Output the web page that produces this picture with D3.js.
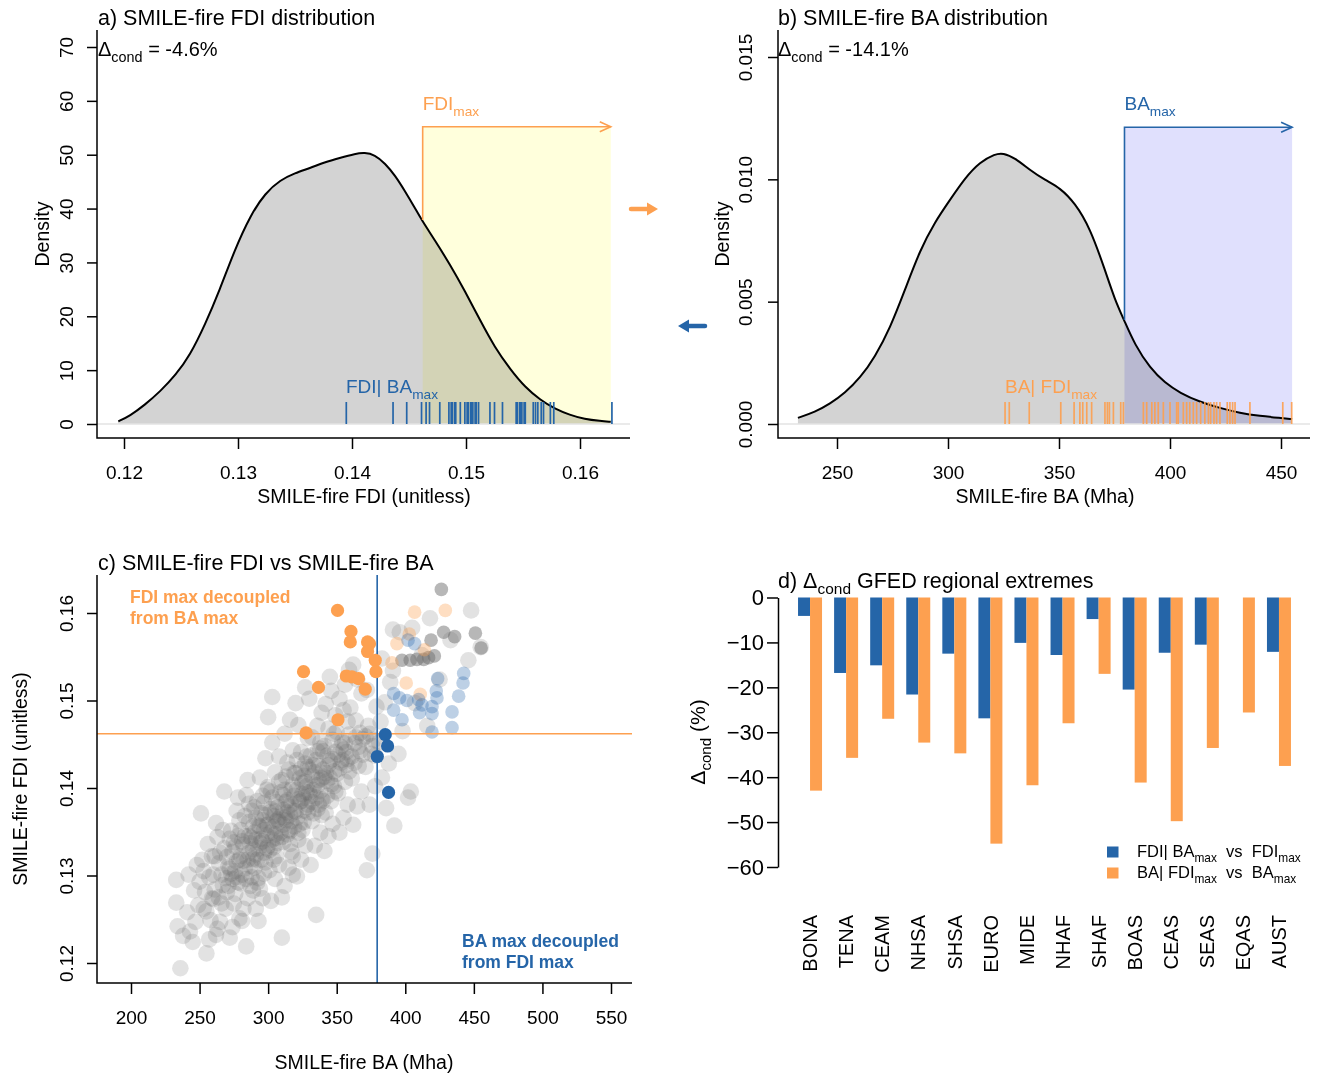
<!DOCTYPE html>
<html>
<head>
<meta charset="utf-8">
<script src="https://cdn.jsdelivr.net/npm/d3@7"></script>
<style>
body { margin: 0; background: #fff; }
svg { font-family: "Liberation Sans", Arial, sans-serif; }
</style>
</head>
<body>
<div id="chart"></div>
<script>
// ---- data ----
// a) FDI density (grid / density)
let fdiGrid = [0.1195,0.1205,0.1218,0.1232,0.1245,0.1258,0.1271,0.1284,0.1297,0.1311,0.1324,0.1337,0.1350,0.1363,0.1376,0.1389,0.1403,0.1411,0.1420,0.1429,0.1438,0.1446,0.1455,0.1461,0.1473,0.1486,0.1499,0.1512,0.1525,0.1539,0.1552,0.1565,0.1578,0.1591,0.1604,0.1618,0.1627];
let fdiDens = [0.5,1.5,3.5,6.1,9.0,12.8,18.4,24.9,32.3,38.8,42.9,45.3,46.6,47.5,48.6,49.4,50.2,50.4,50.0,48.4,46.1,43.4,40.2,37.9,34.0,29.6,24.7,19.4,14.3,10.1,6.8,4.5,2.8,1.7,0.9,0.55,0.4];
// b) BA density
let baGrid = [232.4,240.1,246.8,253.6,260.4,267.1,273.9,280.6,287.4,294.1,300.9,307.7,314.4,321.2,324.8,330.2,336.9,343.7,350.5,357.2,364.0,370.7,375.2,379.3,384.2,391.0,397.7,404.5,413.5,422.5,431.5,440.5,449.5,455.0];
let baDens = [0.00025,0.00049,0.00082,0.00127,0.00188,0.00274,0.00392,0.00548,0.00711,0.00826,0.00916,0.01006,0.01071,0.01104,0.01108,0.01087,0.01038,0.00997,0.00965,0.00903,0.00801,0.00630,0.00507,0.00425,0.00323,0.00229,0.00168,0.00127,0.00090,0.00065,0.00045,0.00033,0.00025,0.00020];

// thresholds
let fdiMax = 0.1462, fdiTop = 0.1627, fdiBoxTop = 55.2, fdiAtMax = 37.9;
let baMax = 379.5, baTop = 455.0, baBoxTop = 0.01213, baAtMax = 0.00425;

// rugs
let fdiGivenBa = [0.1395,0.1436,0.1448,0.1461,0.1465,0.1468,0.1477,0.1485,0.1487,0.1488,0.1490,0.1491,0.1495,0.1499,0.1501,0.1502,0.1504,0.1505,0.1506,0.1508,0.1509,0.1511,0.1521,0.1525,0.1532,0.1544,0.1545,0.1547,0.1548,0.1549,0.1551,0.1552,0.1559,0.1561,0.1563,0.1566,0.1568,0.1574,0.1577,0.1628];
let baGivenFdi = [325.7,327.6,336.6,350.8,356.8,359.4,360.7,362.5,364.7,370.7,371.8,372.7,374.5,377.8,379.0,388.0,389.5,391.8,393.2,394.7,397.0,400.0,403.0,403.7,406.0,407.5,408.9,410.5,412.0,413.8,415.7,417.3,418.3,419.8,421.0,422.5,425.8,427.0,428.2,429.3,436.0,450.8,454.8];

// c) scatter [BA, FDI]
let cloud = [
[236,0.1194],[234,0.1242],[233,0.1295],[233,0.1269],[238,0.1231],
[243,0.1236],[246,0.1283],[241,0.1258],[248,0.1312],[245,0.1224],[249,0.1266],[242,0.1301],[247,0.1247],
[251,0.1371],[255,0.1211],[253,0.1262],[257,0.1298],[252,0.1318],[258,0.1249],[256,0.1336],[254,0.1281],[259,0.1274],[250,0.1293],[257,0.1227],[253,0.1305],[259,0.1322],[255,0.1259],
[268,0.1396],[262,0.1232],[264,0.1275],[266,0.1301],[261,0.1322],[269,0.1262],[263,0.1344],[267,0.1289],[265,0.1247],[260,0.1301],[268,0.1331],[262,0.1360],[264,0.1314],[269,0.1297],[266,0.1268],[261,0.1284],[267,0.1352],[263,0.1239],[265,0.1326],[260,0.1273],
[272,0.1229],[275,0.1268],[278,0.1292],[271,0.1310],[276,0.1333],[273,0.1351],[279,0.1318],[274,0.1296],[277,0.1374],[270,0.1281],[279,0.1251],[272,0.1342],[276,0.1305],[278,0.1389],[274,0.1327],[271,0.1288],[277,0.1316],[273,0.1302],[275,0.1338],[279,0.1363],[270,0.1321],[276,0.1279],[272,0.1308],[278,0.1345],[274,0.1241],[277,0.1298],
[284,0.1219],[282,0.1262],[287,0.1288],[281,0.1301],[285,0.1318],[289,0.1330],[283,0.1345],[286,0.1361],[288,0.1374],[280,0.1352],[284,0.1392],[287,0.1311],[282,0.1335],[289,0.1283],[285,0.1409],[281,0.1248],[288,0.1343],[286,0.1326],[283,0.1308],[280,0.1322],[287,0.1337],[289,0.1356],[284,0.1296],[282,0.1317],[286,0.1345],[288,0.1298],[281,0.1339],[285,0.1274],[283,0.1368],[289,0.1319],[280,0.1291],[286,0.1382],
[291,0.1262],[294,0.1285],[297,0.1302],[292,0.1318],[299,0.1331],[295,0.1342],[293,0.1357],[298,0.1369],[290,0.1378],[296,0.1391],[294,0.1412],[297,0.1326],[291,0.1341],[299,0.1358],[293,0.1297],[296,0.1274],[298,0.1434],[292,0.1385],[295,0.1318],[290,0.1309],[297,0.1352],[294,0.1337],[299,0.1346],[291,0.1324],[296,0.1363],[293,0.1331],[298,0.1315],[290,0.1349],[295,0.1371],[292,0.1292],[297,0.1383],[294,0.1356],[299,0.1398],[291,0.1366],[296,0.1339],[293,0.1248],
[303,0.1504],[300,0.1481],[302,0.1271],[305,0.1296],[308,0.1312],[301,0.1329],[306,0.1343],[304,0.1355],[309,0.1367],[307,0.1378],[303,0.1389],[300,0.1401],[305,0.1418],[308,0.1436],[302,0.1349],[306,0.1362],[310,0.1229],[304,0.1318],[301,0.1372],[309,0.1395],[307,0.1337],[303,0.1452],[300,0.1358],[305,0.1347],[308,0.1361],[302,0.1376],[306,0.1384],[304,0.1332],[309,0.1349],[301,0.1306],[307,0.1364],[303,0.1341],[305,0.1373],[300,0.1334],[308,0.1407],[302,0.1396],[306,0.1322],[304,0.1368],
[312,0.1288],[315,0.1309],[318,0.1322],[311,0.1338],[316,0.1351],[313,0.1363],[319,0.1374],[314,0.1386],[317,0.1398],[310,0.1409],[315,0.1421],[318,0.1443],[312,0.1462],[316,0.1369],[319,0.1356],[311,0.1392],[314,0.1347],[317,0.1381],[313,0.1413],[318,0.1301],[310,0.1275],[316,0.1478],[312,0.1366],[315,0.1379],[319,0.1391],[311,0.1358],[314,0.1372],[317,0.1362],[313,0.1384],[318,0.1403],[310,0.1344],[316,0.1336],[312,0.1398],[315,0.1352],[319,0.1417],[311,0.1375],[314,0.1429],[317,0.1327],
[321,0.1299],[324,0.1318],[327,0.1334],[322,0.1349],[326,0.1361],[329,0.1372],[323,0.1384],[328,0.1395],[325,0.1406],[320,0.1417],[327,0.1428],[324,0.1441],[329,0.1457],[322,0.1472],[326,0.1389],[321,0.1366],[328,0.1378],[323,0.1411],[325,0.1352],[329,0.1424],[320,0.1497],[327,0.1515],[324,0.1385],[321,0.1398],[326,0.1374],[328,0.1402],[322,0.1387],[325,0.1393],[329,0.1381],[323,0.1359],[327,0.1407],[320,0.1373],[324,0.1422],[326,0.1414],[322,0.1341],[328,0.1436],[321,0.1432],
[331,0.1312],[335,0.1255],[334,0.1334],[338,0.1349],[332,0.1362],[336,0.1376],[339,0.1387],[333,0.1398],[337,0.1409],[330,0.1421],[335,0.1432],[338,0.1445],[332,0.1458],[336,0.1471],[339,0.1486],[334,0.1404],[331,0.1391],[337,0.1381],[333,0.1426],[339,0.1369],[330,0.1502],[336,0.1403],[332,0.1414],[338,0.1397],[334,0.1418],[331,0.1437],[337,0.1425],[335,0.1389],[339,0.1411],[333,0.1371],[330,0.1395],[336,0.1442],[332,0.1384],[338,0.1452],
[341,0.1328],[344,0.1345],[347,0.1359],[342,0.1372],[346,0.1385],[349,0.1396],[343,0.1408],[348,0.1419],[345,0.1431],[340,0.1442],[347,0.1455],[344,0.1468],[349,0.1483],[342,0.1496],[346,0.1511],[341,0.1413],[348,0.1402],[343,0.1437],[345,0.1527],[340,0.1421],[344,0.1426],[347,0.1433],[342,0.1417],[349,0.1441],[346,0.1404],[341,0.1448],[348,0.1462],[343,0.1391],[345,0.1412],[340,0.1385],
[352,0.1349],[355,0.1366],[358,0.1381],[351,0.1394],[356,0.1407],[359,0.1419],[353,0.1429],[357,0.1441],[354,0.1453],[350,0.1464],[358,0.1476],[355,0.1489],[352,0.1502],[356,0.1518],[359,0.1535],[354,0.1432],[351,0.1438],[357,0.1426],[353,0.1447],[350,0.1416],[356,0.1451],[358,0.1433],[352,0.1422],[355,0.1444],[359,0.1461],
[362,0.1358],[365,0.1379],[368,0.1396],[361,0.1411],[366,0.1425],[369,0.1438],[363,0.1451],[367,0.1463],[364,0.1477],[360,0.1492],[368,0.1508],[365,0.1524],[362,0.1541],[366,0.1447],[361,0.1436],[369,0.1456],[363,0.1429],[367,0.1442],[364,0.1458],
[372,0.1306],[376,0.1325],[374,0.1381],[378,0.1402],[371,0.1424],[375,0.1439],[377,0.1455],[373,0.1471],[379,0.1493],[372,0.1512],[376,0.1448],[374,0.1462],[371,0.1459],[378,0.1437],
[383,0.1412],[386,0.1377],[388,0.1428],[381,0.1452],[385,0.1498],[389,0.1521],[383,0.1548],[382,0.1476],
[392,0.1357],[395,0.1439],[391,0.1534],[398,0.1465],[396,0.1578],[391,0.1581],
[402,0.1389],[404,0.1396],[407,0.1497],[412,0.1552],[405,0.1583],[416,0.1471],[418,0.1594],[425,0.1524],[433,0.1569],[446,0.1546],[448,0.1603],[455,0.1561]
];
let bothGrey = [[426.3,0.1627],[428.0,0.1578],[436.0,0.1573],[451.1,0.1577],[455.3,0.1560],[418.8,0.1569],[421.2,0.1551],[417.0,0.1549],[413.4,0.1547],[408.5,0.1547],[403.6,0.1546],[397.6,0.1546]];
let bothOrange = [[406.8,0.1601],[429.2,0.1603],[402.9,0.1576],[393.9,0.1565],[390.3,0.1543],[400.7,0.1520],[410.9,0.1507],[413.9,0.1558]];
let bothBlue = [[402.0,0.1569],[406.8,0.1565],[423.6,0.1525],[442.6,0.1531],[442.1,0.1520],[422.6,0.1511],[423.1,0.1503],[438.9,0.1505],[391.5,0.1508],[395.8,0.1503],[401.2,0.1500],[409.7,0.1501],[412.2,0.1495],[410.4,0.1486],[419.5,0.1493],[419.5,0.1485],[434.1,0.1487],[397.6,0.1478],[419.5,0.1464],[434.1,0.1469],[391.5,0.1489]];
let fdiDecoupled = [[350.6,0.1603],[360.4,0.1579],[359.9,0.1567],[372.5,0.1567],[373.9,0.1565],[372.5,0.1556],[378.1,0.1546],[378.6,0.1533],[325.8,0.1533],[357.0,0.1528],[361.1,0.1527],[365.9,0.1525],[336.7,0.1515],[370.8,0.1513],[350.9,0.1478],[327.7,0.1463]];
let baDecoupled = [[385.4,0.1461],[387.1,0.1448],[379.6,0.1436],[387.8,0.1395]];

// d) regional bars
let regions = ["BONA","TENA","CEAM","NHSA","SHSA","EURO","MIDE","NHAF","SHAF","BOAS","CEAS","SEAS","EQAS","AUST"];
let fdiCond = [-4.1,-16.8,-15.1,-21.6,-12.5,-26.9,-10.1,-12.8,-4.8,-20.5,-12.3,-10.5,0,-12.1];
let baCond = [-43.0,-35.7,-27.0,-32.3,-34.7,-54.8,-41.8,-28.0,-17.0,-41.2,-49.8,-33.5,-25.6,-37.5];

// ---- drawing ----
const FONT = '"Liberation Sans", Arial, sans-serif';
const orange = "#fda050", blue = "#2565a8";

let svg = d3.select("#chart").append("svg")
    .attr("width", 1317)
    .attr("height", 1075);

// text with subscripts: parts starting with "_" are subscripts
function rich(parent, x, y, parts, size, opt = {}) {
    let t = parent.append("text")
        .attr("x", x).attr("y", y)
        .attr("fill", opt.fill || "#000")
        .style("font-size", size + "px")
        .style("white-space", "pre");
    if (opt.anchor) t.attr("text-anchor", opt.anchor);
    if (opt.transform) t.attr("transform", opt.transform);
    if (opt.weight) t.style("font-weight", opt.weight);
    let down = false;
    parts.forEach(p => {
        let sub = p.startsWith("_");
        let s = t.append("tspan").text(sub ? p.slice(1) : p);
        if (sub) {
            s.style("font-size", (size * 0.72) + "px").attr("dy", size * 0.3);
            down = true;
        } else if (down) {
            s.attr("dy", -size * 0.3);
            down = false;
        }
    });
    return t;
}

function frame(x0, y0, x1, y1) {
    svg.append("path")
        .attr("d", `M${x0},${y0}V${y1}H${x1}`)
        .attr("fill", "none").attr("stroke", "#000").attr("stroke-width", 1.5);
}

function styleAxis(g, size) {
    g.attr("font-family", FONT).attr("font-size", size);
    g.selectAll("line").attr("stroke", "#000").attr("stroke-width", 1.5);
    g.selectAll("text").attr("fill", "#000");
}

function bottomAxis(scale, ticks, fmt, y) {
    let g = svg.append("g")
        .attr("transform", `translate(0,${y})`)
        .call(d3.axisBottom(scale).tickValues(ticks).tickFormat(fmt).tickSize(11).tickPadding(17));
    g.select(".domain").remove();
    styleAxis(g, 19);
}

function leftAxisRot(scale, ticks, fmt, x, off) {
    let g = svg.append("g")
        .attr("transform", `translate(${x},0)`)
        .call(d3.axisLeft(scale).tickValues(ticks).tickFormat(fmt).tickSize(10));
    g.select(".domain").remove();
    g.selectAll(".tick text")
        .attr("x", null).attr("dy", null)
        .attr("text-anchor", "middle")
        .attr("transform", `translate(${-off},0) rotate(-90)`);
    styleAxis(g, 19);
}

function arrowHead(x, y, dir, col) {
    svg.append("path")
        .attr("d", `M${x - dir * 11},${y - 5}L${x},${y}L${x - dir * 11},${y + 5}`)
        .attr("fill", "none").attr("stroke", col).attr("stroke-width", 1.6);
}

// ===== panel a =====
let xA = d3.scaleLinear().domain([0.12, 0.16]).range([124, 580]);
let yA = d3.scaleLinear().domain([0, 70]).range([424, 47]);
let densA = d3.zip(fdiGrid, fdiDens);

svg.append("path").datum(densA)
    .attr("fill", "#d3d3d3")
    .attr("d", d3.area().x(d => xA(d[0])).y0(yA(0)).y1(d => yA(d[1])).curve(d3.curveBasis));
svg.append("rect")
    .attr("x", xA(fdiMax)).attr("y", yA(fdiBoxTop))
    .attr("width", xA(fdiTop) - xA(fdiMax)).attr("height", yA(0) - yA(fdiBoxTop))
    .attr("fill", "#ffffdc").style("mix-blend-mode", "multiply");
svg.append("line")
    .attr("x1", 97).attr("x2", 630).attr("y1", yA(0)).attr("y2", yA(0))
    .attr("stroke", "#e3e3e3").attr("stroke-width", 1.5);
svg.append("path").datum(densA)
    .attr("fill", "none").attr("stroke", "#000").attr("stroke-width", 2)
    .attr("d", d3.line().x(d => xA(d[0])).y(d => yA(d[1])).curve(d3.curveBasis));

svg.selectAll(".rugA").data(fdiGivenBa).join("line")
    .attr("x1", d => xA(d)).attr("x2", d => xA(d))
    .attr("y1", 402).attr("y2", yA(0))
    .attr("stroke", blue).attr("stroke-width", 1.7);

svg.append("path")
    .attr("d", `M${xA(fdiMax)},${yA(fdiAtMax)}V${yA(fdiBoxTop)}H${xA(fdiTop)}`)
    .attr("fill", "none").attr("stroke", orange).attr("stroke-width", 1.6);
arrowHead(xA(fdiTop), yA(fdiBoxTop), 1, orange);

frame(97, 30, 630, 438);
bottomAxis(xA, [0.12, 0.13, 0.14, 0.15, 0.16], d3.format(".2f"), 438);
leftAxisRot(yA, d3.range(0, 71, 10), d3.format("d"), 97, 24);

rich(svg, 98, 25, ["a) SMILE-fire FDI distribution"], 21.5);
rich(svg, 98, 56, ["Δ", "_cond", " = -4.6%"], 20);
rich(svg, xA(fdiMax), 110, ["FDI", "_max"], 19, { fill: orange });
rich(svg, 346, 393, ["FDI| BA", "_max"], 19, { fill: blue });
svg.append("text").attr("x", 364).attr("y", 503).attr("text-anchor", "middle")
    .style("font-size", "19.5px").text("SMILE-fire FDI (unitless)");
svg.append("text").attr("transform", "translate(49,234) rotate(-90)").attr("text-anchor", "middle")
    .style("font-size", "19.5px").text("Density");

// ===== panel b =====
let xB = d3.scaleLinear().domain([250, 450]).range([837, 1281]);
let yB = d3.scaleLinear().domain([0, 0.015]).range([424, 57]);
let densB = d3.zip(baGrid, baDens);

svg.append("path").datum(densB)
    .attr("fill", "#d3d3d3")
    .attr("d", d3.area().x(d => xB(d[0])).y0(yB(0)).y1(d => yB(d[1])).curve(d3.curveBasis));
svg.append("rect")
    .attr("x", xB(baMax)).attr("y", yB(baBoxTop))
    .attr("width", xB(baTop) - xB(baMax)).attr("height", yB(0) - yB(baBoxTop))
    .attr("fill", "#e0e0fd").style("mix-blend-mode", "multiply");
svg.append("line")
    .attr("x1", 778).attr("x2", 1310).attr("y1", yB(0)).attr("y2", yB(0))
    .attr("stroke", "#e3e3e3").attr("stroke-width", 1.5);
svg.append("path").datum(densB)
    .attr("fill", "none").attr("stroke", "#000").attr("stroke-width", 2)
    .attr("d", d3.line().x(d => xB(d[0])).y(d => yB(d[1])).curve(d3.curveBasis));

svg.selectAll(".rugB").data(baGivenFdi).join("line")
    .attr("x1", d => xB(d)).attr("x2", d => xB(d))
    .attr("y1", 402).attr("y2", yB(0))
    .attr("stroke", orange).attr("stroke-width", 1.7).attr("opacity", 0.9);

svg.append("path")
    .attr("d", `M${xB(baMax)},${yB(baAtMax)}V${yB(baBoxTop)}H${xB(baTop)}`)
    .attr("fill", "none").attr("stroke", blue).attr("stroke-width", 1.6);
arrowHead(xB(baTop), yB(baBoxTop), 1, blue);

frame(778, 30, 1310, 438);
bottomAxis(xB, [250, 300, 350, 400, 450], d3.format("d"), 438);
leftAxisRot(yB, [0, 0.005, 0.01, 0.015], d3.format(".3f"), 778, 26);

rich(svg, 778, 25, ["b) SMILE-fire BA distribution"], 21.5);
rich(svg, 778, 56, ["Δ", "_cond", " = -14.1%"], 20);
rich(svg, xB(baMax), 110, ["BA", "_max"], 19, { fill: blue });
rich(svg, 1005, 393, ["BA| FDI", "_max"], 19, { fill: orange });
svg.append("text").attr("x", 1045).attr("y", 503).attr("text-anchor", "middle")
    .style("font-size", "19.5px").text("SMILE-fire BA (Mha)");
svg.append("text").attr("transform", "translate(729,234) rotate(-90)").attr("text-anchor", "middle")
    .style("font-size", "19.5px").text("Density");

// arrows between a and b
svg.append("line").attr("x1", 631).attr("x2", 650).attr("y1", 209).attr("y2", 209)
    .attr("stroke", orange).attr("stroke-width", 4.5).attr("stroke-linecap", "round");
svg.append("path").attr("d", "M647,202.5L658,209L647,215.5Z").attr("fill", orange);
svg.append("line").attr("x1", 705).attr("x2", 686).attr("y1", 326).attr("y2", 326)
    .attr("stroke", blue).attr("stroke-width", 4.5).attr("stroke-linecap", "round");
svg.append("path").attr("d", "M689,319.5L678,326L689,332.5Z").attr("fill", blue);

// ===== panel c =====
let xC = d3.scaleLinear().domain([200, 550]).range([131, 611]);
let yC = d3.scaleLinear().domain([0.12, 0.16]).range([963, 613]);

svg.append("g").selectAll("circle").data(cloud).join("circle")
    .attr("cx", d => xC(d[0])).attr("cy", d => yC(d[1])).attr("r", 8.3)
    .attr("fill", "#666").attr("fill-opacity", 0.19);
svg.append("g").selectAll("circle").data(bothGrey).join("circle")
    .attr("cx", d => xC(d[0])).attr("cy", d => yC(d[1])).attr("r", 6.8)
    .attr("fill", "#707070").attr("fill-opacity", 0.5);
svg.append("g").selectAll("circle").data(bothOrange).join("circle")
    .attr("cx", d => xC(d[0])).attr("cy", d => yC(d[1])).attr("r", 6.8)
    .attr("fill", orange).attr("fill-opacity", 0.35);
svg.append("g").selectAll("circle").data(bothBlue).join("circle")
    .attr("cx", d => xC(d[0])).attr("cy", d => yC(d[1])).attr("r", 6.8)
    .attr("fill", blue).attr("fill-opacity", 0.3);

svg.append("line")
    .attr("x1", 97).attr("x2", 632).attr("y1", yC(fdiMax)).attr("y2", yC(fdiMax))
    .attr("stroke", orange).attr("stroke-width", 1.6);
svg.append("line")
    .attr("x1", xC(baMax)).attr("x2", xC(baMax)).attr("y1", 575).attr("y2", 983)
    .attr("stroke", blue).attr("stroke-width", 1.6);

svg.append("g").selectAll("circle").data(fdiDecoupled).join("circle")
    .attr("cx", d => xC(d[0])).attr("cy", d => yC(d[1])).attr("r", 6.6)
    .attr("fill", orange);
svg.append("g").selectAll("circle").data(baDecoupled).join("circle")
    .attr("cx", d => xC(d[0])).attr("cy", d => yC(d[1])).attr("r", 6.6)
    .attr("fill", blue);

frame(97, 575, 632, 983);
bottomAxis(xC, d3.range(200, 551, 50), d3.format("d"), 983);
leftAxisRot(yC, [0.12, 0.13, 0.14, 0.15, 0.16], d3.format(".2f"), 97, 24);

rich(svg, 98, 570, ["c) SMILE-fire FDI vs SMILE-fire BA"], 21.5);
rich(svg, 130, 603, ["FDI max decoupled"], 17.5, { fill: orange, weight: "bold" });
rich(svg, 130, 624, ["from BA max"], 17.5, { fill: orange, weight: "bold" });
rich(svg, 462, 947, ["BA max decoupled"], 17.5, { fill: blue, weight: "bold" });
rich(svg, 462, 968, ["from FDI max"], 17.5, { fill: blue, weight: "bold" });
svg.append("text").attr("x", 364).attr("y", 1069).attr("text-anchor", "middle")
    .style("font-size", "19.5px").text("SMILE-fire BA (Mha)");
svg.append("text").attr("transform", "translate(27,779) rotate(-90)").attr("text-anchor", "middle")
    .style("font-size", "19.5px").text("SMILE-fire FDI (unitless)");

// ===== panel d =====
let xD = d3.scaleBand().domain(regions).range([792, 1297]);
let yD = d3.scaleLinear().domain([-60, 0]).range([867, 597.5]);
let barW = 12;
let cx = r => xD(r) + xD.bandwidth() / 2;

svg.append("g").selectAll("rect").data(regions).join("rect")
    .attr("x", d => cx(d) - barW).attr("width", barW)
    .attr("y", yD(0)).attr("height", (d, i) => yD(fdiCond[i]) - yD(0))
    .attr("fill", blue);
svg.append("g").selectAll("rect").data(regions).join("rect")
    .attr("x", d => cx(d)).attr("width", barW)
    .attr("y", yD(0)).attr("height", (d, i) => yD(baCond[i]) - yD(0))
    .attr("fill", orange);

let gD = svg.append("g")
    .attr("transform", "translate(778,0)")
    .call(d3.axisLeft(yD).tickValues(d3.range(-60, 1, 10)).tickFormat(d3.format("d")).tickSize(11).tickSizeOuter(0).tickPadding(3));
styleAxis(gD, 22);
gD.select(".domain").attr("stroke", "#000").attr("stroke-width", 1.5);

svg.append("g").selectAll("text").data(regions).join("text")
    .attr("transform", d => `translate(${cx(d)},915) rotate(-90)`)
    .attr("text-anchor", "end").attr("dy", "0.36em")
    .style("font-size", "20px").text(d => d);

rich(svg, 778, 588, ["d) Δ", "_cond", " GFED regional extremes"], 21.5);
rich(svg, 0, 0, ["Δ", "_cond", " (%)"], 21, { anchor: "middle", transform: "translate(705,742) rotate(-90)" });

// legend
let legend = [[blue, ["FDI| BA", "_max", "  vs  FDI", "_max"]], [orange, ["BA| FDI", "_max", "  vs  BA", "_max"]]];
legend.forEach((l, i) => {
    let y = 852 + i * 21;
    svg.append("rect").attr("x", 1107).attr("y", y - 5.5).attr("width", 11.5).attr("height", 11).attr("fill", l[0]);
    rich(svg, 1137, y + 5, l[1], 16.5);
});
</script>
</body>
</html>
